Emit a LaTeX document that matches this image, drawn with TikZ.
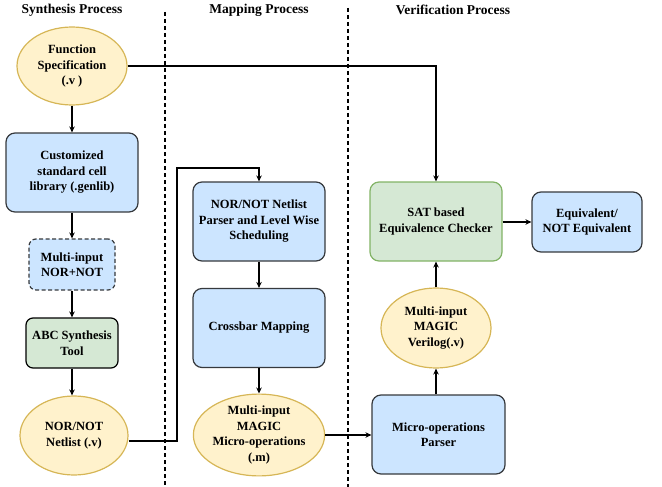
\documentclass[tikz,border=0pt]{standalone}
\usepackage{fontspec}
\setmainfont{Liberation Serif}
\usetikzlibrary{shapes.geometric,arrows.meta}
\definecolor{bluefill}{HTML}{CCE5FF}
\definecolor{darkline}{HTML}{36393D}
\definecolor{yelfill}{HTML}{FFF2CC}
\definecolor{yelline}{HTML}{D6B656}
\definecolor{grnfill}{HTML}{D5E8D4}
\definecolor{grnline}{HTML}{82B366}
\tikzset{
  x=1pt,y=-1pt,
  txt/.style={font=\bfseries\fontsize{12.5}{15.5}\selectfont,align=center,text=black},
  bluebox/.style={txt,draw=darkline,fill=bluefill,line width=1.2pt,rounded corners=9pt,inner sep=0pt},
  ell/.style={txt,ellipse,draw=yelline,fill=yelfill,line width=1.2pt,inner sep=0pt},
  greenbox/.style={txt,draw=grnline,fill=grnfill,line width=1.2pt,rounded corners=9pt,inner sep=0pt},
  abcbox/.style={txt,draw=black,fill=grnfill,line width=1.2pt,rounded corners=7pt,inner sep=0pt},
  conn/.style={line width=1.3pt,-{Stealth[length=6pt,width=5.5pt]}},
  header/.style={font=\bfseries\fontsize{13.5}{15}\selectfont},
  sep/.style={line width=1.1pt,dash pattern=on 4pt off 3pt}
}
\begin{document}
\begin{tikzpicture}
\useasboundingbox (0,0) rectangle (662,487);
% headers
\node[header] (h1) at (72,10) {Synthesis Process};
\node[header] (h2) at (259,10) {Mapping Process};
\node[header] (h3) at (453,10) {Verification Process};
% separators
\coordinate (s1a) at (165,12); \coordinate (s1b) at (165,487);
\coordinate (s2a) at (348,8); \coordinate (s2b) at (348,487);
\draw[sep] (s1a) -- (s1b);
\draw[sep] (s2a) -- (s2b);
% synthesis column
\node[ell,minimum width=110pt,minimum height=78pt] (fs) at (72,66) {Function\\Specification\\(.v )};
\node[bluebox,minimum width=132pt,minimum height=79pt] (lib) at (72,172.5) {Customized\\standard cell\\library (.genlib)};
\node[bluebox,dashed,dash pattern=on 4pt off 2.5pt,minimum width=86pt,minimum height=51pt,rounded corners=7pt] (mi) at (72,264.5) {Multi-input\\NOR+NOT};
\node[abcbox,minimum width=92pt,minimum height=50pt] (abc) at (72,343) {ABC Synthesis\\Tool};
\node[ell,minimum width=108pt,minimum height=79pt] (nn) at (74,435.5) {NOR/NOT\\Netlist (.v)};
% mapping column
\node[bluebox,minimum width=132pt,minimum height=79pt] (pars) at (259,221.5) {NOR/NOT Netlist\\Parser and Level Wise\\Scheduling};
\node[bluebox,minimum width=132pt,minimum height=79pt] (cb) at (259,328) {Crossbar Mapping};
\node[ell,minimum width=108pt,minimum height=80pt] (mm) at (259,435) {Multi-input\\MAGIC\\Micro-operations\\(.m)};
% verification column
\node[bluebox,minimum width=133pt,minimum height=79pt] (mp) at (438.5,434.5) {Micro-operations\\Parser};
\node[ell,minimum width=110pt,minimum height=80pt] (mv) at (436,328) {Multi-input\\MAGIC\\Verilog(.v)};
\node[greenbox,minimum width=132pt,minimum height=79pt] (sat) at (436,221.5) {SAT based\\Equivalence Checker};
\node[bluebox,minimum width=110pt,minimum height=60pt] (eq) at (587,222) {Equivalent/\\NOT Equivalent};
% connectors
\draw[conn] (fs) -- (lib);
\draw[conn] (lib) -- (mi);
\draw[conn] (mi) -- (abc);
\draw[conn] (abc.south) -- (nn.north -| abc.south);
\draw[conn] (fs.east) -| (sat.north);
\coordinate (k1) at (177,441);
\coordinate (k2) at (177,168);
\coordinate (k3) at (259,168);
\draw[conn] (nn.east |- k1) -- (k1) -- (k2) -- (k3) -- (pars.north);
\draw[conn] (pars) -- (cb);
\draw[conn] (cb) -- (mm);
\draw[conn] (mm.east) -- (mp.west |- mm.east);
\draw[conn] (mp.north -| mv.south) -- (mv.south);
\draw[conn] (mv) -- (sat);
\draw[conn] (sat.east |- eq.west) -- (eq.west);
\end{tikzpicture}
\end{document}
